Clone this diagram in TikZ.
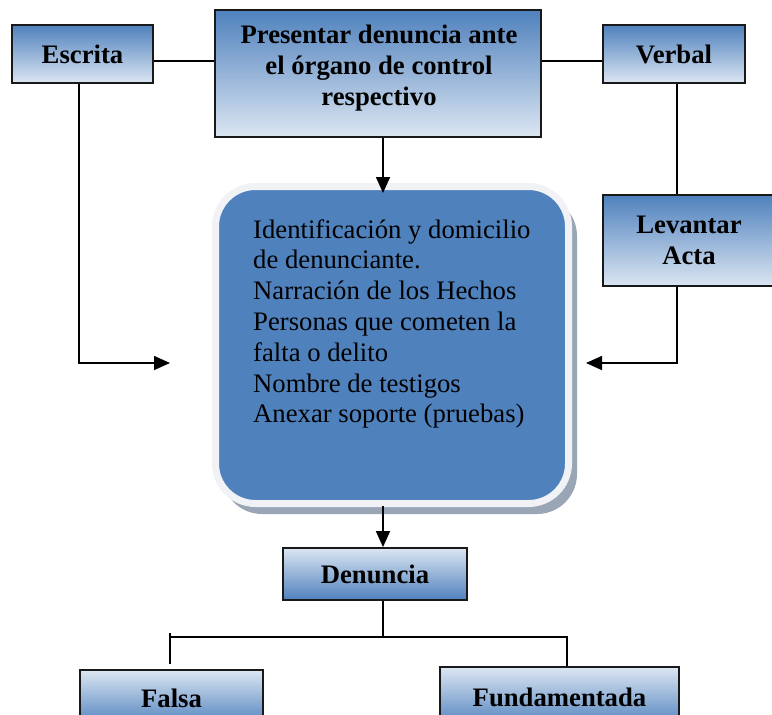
\documentclass[tikz,border=0pt]{standalone}
\usepackage{fontspec}
\setmainfont{Liberation Serif}
\usetikzlibrary{arrows.meta}
\definecolor{dblue}{HTML}{4F81BD}
\definecolor{lblue}{HTML}{DCE6F2}
\definecolor{rim}{HTML}{F0F2F5}
\definecolor{shadecol}{HTML}{9AA6B6}
\begin{document}
\begin{tikzpicture}[x=1pt,y=-1pt,
  boxtext/.style={inner sep=0pt, align=center, font=\fontsize{26.7}{31}\selectfont\bfseries},
  box/.style={boxtext, draw=black!90, line width=1.8pt},
  topbox/.style={box, top color=dblue, bottom color=lblue},
  botbox/.style={box, top color=lblue, bottom color=dblue},
  conn/.style={line width=1.6pt},
  arr/.style={conn, -{Triangle[length=16pt,width=14pt]}}]
\path[use as bounding box, clip] (0,0) rectangle (772,715);

% top row
\node[topbox, minimum width=141, minimum height=58] (escrita) at (82.5,54) {Escrita};
\node[topbox, minimum width=326, minimum height=127] (presentar) at (378,73.5) {};
\node[boxtext] (presentartxt) at (379,68)
  {Presentar denuncia ante\\el órgano de control\\respectivo};
\node[topbox, minimum width=142, minimum height=58] (verbal) at (674,54) {Verbal};
\node[topbox, minimum width=172, minimum height=91] (levantar) at (689,240.5) {Levantar\\Acta};

% big rounded box
\fill[shadecol, rounded corners=40pt] (222,196) rectangle (577,514);
\node[draw=rim, line width=7pt, fill=dblue, rounded corners=40pt,
  minimum width=353, minimum height=317, inner sep=0pt] (big) at (392,345) {};
\node[anchor=north west, inner sep=0pt, align=left,
  font=\fontsize{26.7}{30.8}\selectfont] (bigtxt) at (253,219)
  {Identificación y domicilio\\de denunciante.\\Narración de los Hechos\\Personas que cometen la\\falta o delito\\Nombre de testigos\\Anexar soporte (pruebas)};

% bottom
\node[botbox, minimum width=184, minimum height=52] (denuncia) at (375,574) {Denuncia};
\node[botbox, minimum width=183, minimum height=56] (falsa) at (171.5,698) {Falsa};
\node[botbox, minimum width=239, minimum height=60] (fundamentada) at (559.5,697) {Fundamentada};

% connectors
\draw[conn] (escrita.east |- 0,61) -- (presentar.west |- 0,61);
\draw[conn] (presentar.east |- 0,61) -- (verbal.west |- 0,61);
\coordinate (tipL) at (170,363);
\draw[arr] (escrita.south -| 79,0) |- (tipL);
\draw[conn] (verbal.south -| 677,0) -- (levantar.north -| 677,0);
\coordinate (tipR) at (586,363);
\draw[arr] (levantar.south -| 677,0) |- (tipR);
\coordinate (tipT) at (383,193);
\draw[arr] (presentar.south -| 383,0) -- (tipT);
\coordinate (bigbot) at (383,506);
\draw[arr] (bigbot) -- (denuncia.north -| 383,0);
\coordinate (fork) at (383,637);
\coordinate (forkL) at (170,637);
\coordinate (ltop) at (170,633);
\coordinate (lend) at (170,664);
\draw[conn] (denuncia.south -| 383,0) -- (fork) -| (fundamentada.north -| 567,0);
\draw[conn] (fork) -- (forkL);
\draw[conn] (ltop) -- (lend);
\end{tikzpicture}
\end{document}
